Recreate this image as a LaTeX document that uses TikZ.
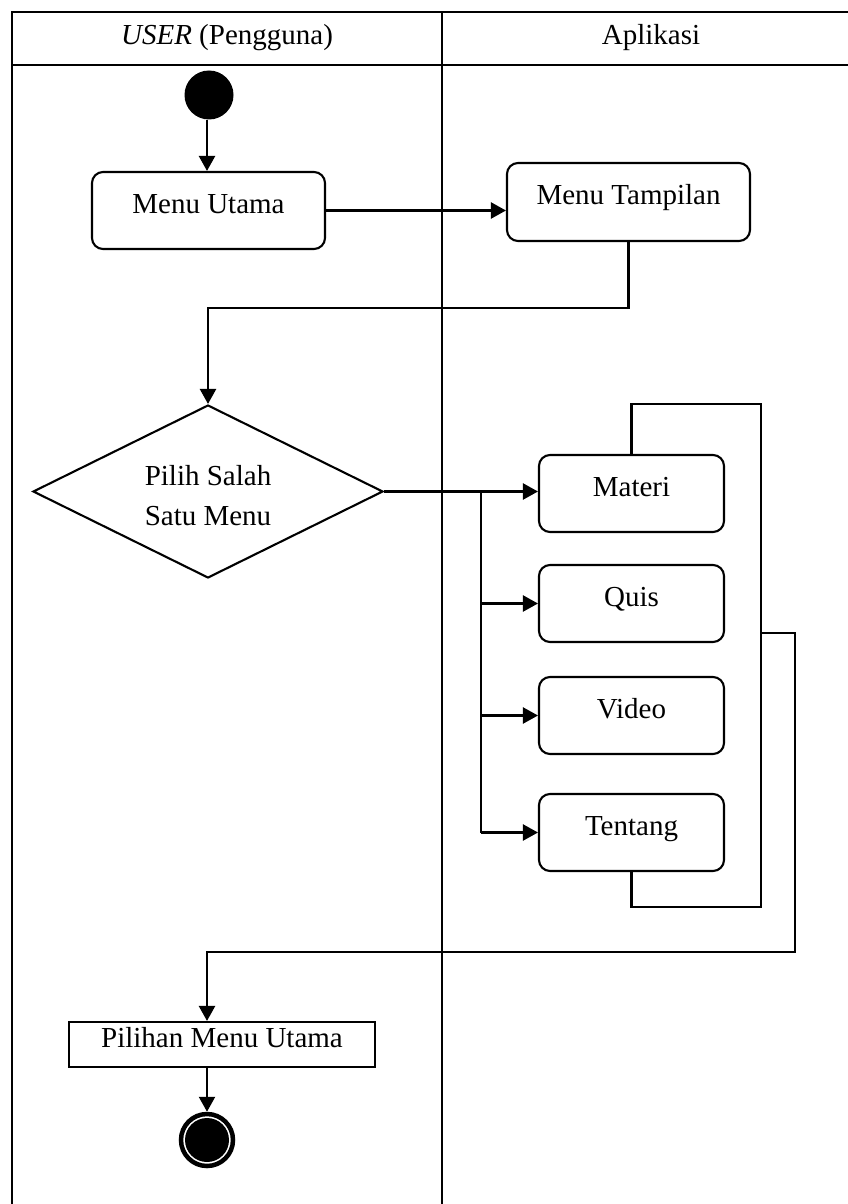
\documentclass[tikz,border=0pt]{standalone}
\usepackage{fontspec}
\setmainfont{Liberation Serif}
\usetikzlibrary{arrows.meta,shapes.geometric}

\tikzset{
  lane/.style={line width=2.3pt},
  actbox/.style={draw, line width=2.1pt, rounded corners=11pt, inner sep=0pt,
    text height=20pt, text depth=15pt},
  plainbox/.style={draw, line width=2.1pt, inner sep=0pt,
    text height=20pt, text depth=15pt},
  decision/.style={draw, diamond, line width=2.1pt, inner sep=0pt},
  flow/.style={line width=2.3pt, -{Triangle[length=15pt,width=16pt]}},
  link/.style={line width=2.3pt},
  lbl/.style={inner sep=0pt},
}

\begin{document}
\begin{tikzpicture}[x=1pt, y=-1pt, font=\fontsize{29}{40}\selectfont]
  \useasboundingbox (0,0) rectangle (848,1204);
  \clip (0,0) rectangle (848,1204);

  % swimlane table
  \draw[lane] (12,12) rectangle (860,1216);
  \draw[lane] (12,65) -- (860,65);
  \draw[lane] (442,12) -- (442,1216);
  \node[lbl, anchor=base] (hUser) at (227,45) {\textit{USER} (Pengguna)};
  \node[lbl, anchor=base] (hApp) at (651,45) {Aplikasi};

  % activity nodes
  \node[circle, fill=black, minimum size=49pt, inner sep=0pt] (start) at (209,95) {};
  \node[actbox, minimum width=233pt, minimum height=77pt] (mu) at (208.5,210.5) {Menu Utama};
  \node[actbox, minimum width=243pt, minimum height=78pt] (mt) at (628.5,202) {Menu Tampilan};
  \node[decision, minimum width=350pt, minimum height=173pt] (dec) at (208,491.5) {};
  \node[lbl, align=center, text height=60pt, text depth=0pt, yshift=-3.5pt] (decText) at (dec) {Pilih Salah\\Satu Menu};

  \node[actbox, minimum width=185pt, minimum height=77pt] (mat) at (631.5,493.5) {Materi};
  \node[actbox, minimum width=185pt, minimum height=77pt] (qui) at (631.5,603.5) {Quis};
  \node[actbox, minimum width=185pt, minimum height=77pt] (vid) at (631.5,715.5) {Video};
  \node[actbox, minimum width=185pt, minimum height=77pt] (ten) at (631.5,832.5) {Tentang};

  \node[plainbox, minimum width=306pt, minimum height=45pt] (pmu) at (222,1044.5) {Pilihan Menu Utama};
  \node[circle, draw, line width=4.5pt, minimum size=52pt, inner sep=0pt,
    path picture={\fill (path picture bounding box.center) circle (22pt);}] (finish) at (207,1140) {};

  % connectors
  \draw[flow] (start.south -| 207,0) -- (mu.north -| 207,0);
  \draw[flow] (mu.east) -- (mu.east -| mt.west);
  \draw[flow] (mt.south) -- (mt.south |- 0,308) -| (dec.north);

  \coordinate (branchTop) at (481,491.5);
  \coordinate (branchBot) at (481,832.5);
  \draw[flow] (dec.east) -- (dec.east -| mat.west);
  \draw[link] (branchTop) -- (branchBot);
  \draw[flow] (branchTop |- qui.west) -- (qui.west);
  \draw[flow] (branchTop |- vid.west) -- (vid.west);
  \draw[flow] (branchBot) -- (ten.west);

  % repeat loop around the menu options
  \coordinate (loopTR) at (761,404);
  \coordinate (loopBR) at (761,907);
  \draw[link] (ten.south) -- (ten.south |- loopBR) -- (loopBR) -- (loopTR)
    -- (mat.north |- loopTR) -- (mat.north);

  % return to the user lane
  \coordinate (outA) at (761,633);
  \coordinate (outB) at (795,633);
  \coordinate (outC) at (795,952);
  \draw[flow] (outA) -- (outB) -- (outC) -| (finish |- pmu.north);
  \draw[flow] (finish |- pmu.south) -- (finish.north);
\end{tikzpicture}
\end{document}
